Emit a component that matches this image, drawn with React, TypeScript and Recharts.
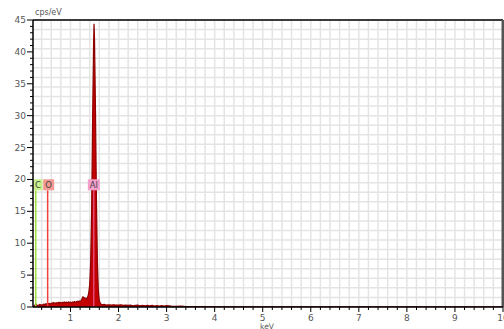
import { ComposedChart, Area, XAxis, YAxis, CartesianGrid, ReferenceLine, Label } from 'recharts';

// energy (keV) and count rate (cps/eV)
const energy = [
  0.22, 0.24, 0.26, 0.28, 0.3, 0.32, 0.34, 0.36, 0.38, 0.4, 0.42, 0.44, 0.46, 0.48, 0.5,
  0.52, 0.54, 0.56, 0.58, 0.6, 0.62, 0.64, 0.66, 0.68, 0.7, 0.72, 0.74, 0.76, 0.78, 0.8,
  0.82, 0.84, 0.86, 0.88, 0.9, 0.92, 0.94, 0.96, 0.98, 1.0, 1.02, 1.04, 1.06, 1.08, 1.1,
  1.12, 1.14, 1.16, 1.18, 1.2, 1.22, 1.24, 1.26, 1.28, 1.3, 1.32, 1.34, 1.36, 1.38, 1.4,
  1.42, 1.44, 1.46, 1.48, 1.49, 1.5, 1.52, 1.54, 1.56, 1.58, 1.6, 1.62, 1.64, 1.66, 1.7,
  1.75, 1.8, 1.85, 1.9, 1.95, 2.0, 2.05, 2.1, 2.15, 2.2, 2.25, 2.3, 2.35, 2.4, 2.45,
  2.5, 2.55, 2.6, 2.65, 2.7, 2.75, 2.8, 2.85, 2.9, 2.95, 3.0, 3.1, 3.2, 3.3, 3.4,
  3.6, 4.0, 5.0, 6.0, 7.0, 8.0, 9.0, 10.0,
];
const cps = [
  0, 0.1, 0.3, 0.5, 0.2, 0.3, 0.25, 0.4, 0.3, 0.35, 0.3, 0.45, 0.4, 0.5, 0.45,
  0.6, 0.5, 0.55, 0.45, 0.6, 0.55, 0.7, 0.6, 0.65, 0.55, 0.7, 0.6, 0.75, 0.65, 0.7,
  0.6, 0.75, 0.7, 0.8, 0.65, 0.75, 0.7, 0.8, 0.7, 0.75, 0.65, 0.8, 0.7, 0.85, 0.75,
  0.8, 0.9, 0.8, 0.95, 0.85, 1.0, 1.3, 1.6, 1.5, 1.35, 1.4, 1.25, 1.6, 2.2, 3.5,
  7, 15, 29, 41, 44.4, 42, 31, 17, 7, 2.5, 1.0, 0.6, 0.45, 0.35, 0.4,
  0.3, 0.35, 0.3, 0.35, 0.3, 0.3, 0.35, 0.25, 0.3, 0.25, 0.3, 0.2, 0.25, 0.3, 0.2,
  0.25, 0.2, 0.25, 0.2, 0.25, 0.15, 0.2, 0.15, 0.2, 0.15, 0.2, 0.15, 0.12, 0.15, 0.08,
  0.05, 0.03, 0.02, 0.02, 0.01, 0.01, 0.01, 0.01,
];

const elements = ['C', 'O', 'Al'];
const elementKeV = [0.277, 0.525, 1.486];
const elementLine = ['#9ee03c', '#f04040', '#f06ab0'];
const elementBox = ['#c6f08c', '#f59a92', '#f5a0cc'];
const boxWidth = [9, 11, 12];
const boxShift = [0, 1, 0];
const markerTop = 18.3;

const yMajor = [0, 5, 10, 15, 20, 25, 30, 35, 40, 45];
const xMajor = [1, 2, 3, 4, 5, 6, 7, 8, 9, 10];

const yTicks = Array.from({ length: 46 }, (_, i) => i);
const xTicks = Array.from({ length: 49 }, (_, i) => +(0.4 + i * 0.2).toFixed(1));
const yGrid = Array.from({ length: 31 }, (_, i) => i * 1.5);
const xGrid = xTicks;

const spectrum = energy.map((e, i) => ({ e, cps: cps[i] }));

const FONT = 'DejaVu Sans, sans-serif';

const YTick = (props: any) => {
  const { x, y, payload } = props;
  const major = yMajor.includes(payload.value);
  return (
    <g>
      <line x1={x - (major ? 6 : 3)} x2={x} y1={y} y2={y} stroke="#000" strokeWidth={1} />
      {major && (
        <text x={x - 7} y={y} dy={3} textAnchor="end" fontSize={9} fill="#555" fontFamily={FONT}>
          {payload.value}
        </text>
      )}
    </g>
  );
};

const XTick = (props: any) => {
  const { x, y, payload } = props;
  const major = xMajor.some((m) => Math.abs(m - payload.value) < 1e-6);
  return (
    <g>
      <line x1={x} x2={x} y1={y} y2={y + (major ? 5 : 3)} stroke="#000" strokeWidth={1} />
      {major && (
        <text x={x} y={y + 13.5} textAnchor="middle" fontSize={9} fill="#555" fontFamily={FONT}>
          {Math.round(payload.value)}
        </text>
      )}
    </g>
  );
};

const markerLabel = (i: number) => (props: any) => {
  const { viewBox } = props;
  const w = boxWidth[i];
  const left = Math.max(viewBox.x - w / 2 + boxShift[i], 33.5);
  const top = viewBox.y - 11;
  return (
    <g>
      <rect x={left} y={top} width={w} height={11} fill={elementBox[i]} />
      <text x={left + w / 2} y={top + 8.5} textAnchor="middle" fontSize={8.5} fill="#444" fontFamily={FONT}>
        {elements[i]}
      </text>
    </g>
  );
};

export default function App() {
  return (
    <div style={{ position: 'absolute', left: 0, top: 0 }}>
      <ComposedChart width={504} height={329} data={spectrum} margin={{ top: 20, right: 1, bottom: 0, left: 0 }}>
        <CartesianGrid stroke="#e4e4e4" strokeWidth={1.5} horizontalValues={yGrid} verticalValues={xGrid} />
        <XAxis
          dataKey="e"
          type="number"
          domain={[0.22, 10]}
          allowDataOverflow
          ticks={xTicks}
          interval={0}
          tickSize={0}
          tickMargin={0}
          tickLine={false}
          tick={(p: any) => <XTick {...p} />}
          axisLine={{ stroke: '#000', strokeWidth: 1.5 }}
          height={22}
        >
          <Label
            content={() => (
              <text x={267} y={328.5} textAnchor="middle" fontSize={7.5} fill="#555" fontFamily={FONT}>
                keV
              </text>
            )}
          />
        </XAxis>
        <YAxis
          type="number"
          domain={[0, 45]}
          allowDataOverflow
          ticks={yTicks}
          interval={0}
          tickSize={0}
          tickMargin={0}
          tickLine={false}
          tick={(p: any) => <YTick {...p} />}
          axisLine={{ stroke: '#000', strokeWidth: 1.5 }}
          width={33}
        >
          <Label
            content={() => (
              <text x={35} y={15} fontSize={8} fill="#555" fontFamily={FONT}>
                cps/eV
              </text>
            )}
          />
        </YAxis>
        <Area
          type="linear"
          dataKey="cps"
          fill="#c40000"
          fillOpacity={1}
          stroke="#8c0000"
          strokeWidth={1.2}
          baseValue={0}
          isAnimationActive={false}
        />
        <ReferenceLine y={45} stroke="#000" strokeWidth={1.5} />
        <ReferenceLine x={10} stroke="#555" strokeWidth={3} />
        {elements.map((name, i) => (
          <ReferenceLine
            key={name}
            segment={[
              { x: elementKeV[i], y: 0 },
              { x: elementKeV[i], y: markerTop },
            ]}
            stroke={elementLine[i]}
            strokeWidth={name === 'Al' ? 1 : 1.5}
            label={markerLabel(i)}
          />
        ))}
      </ComposedChart>
    </div>
  );
}
